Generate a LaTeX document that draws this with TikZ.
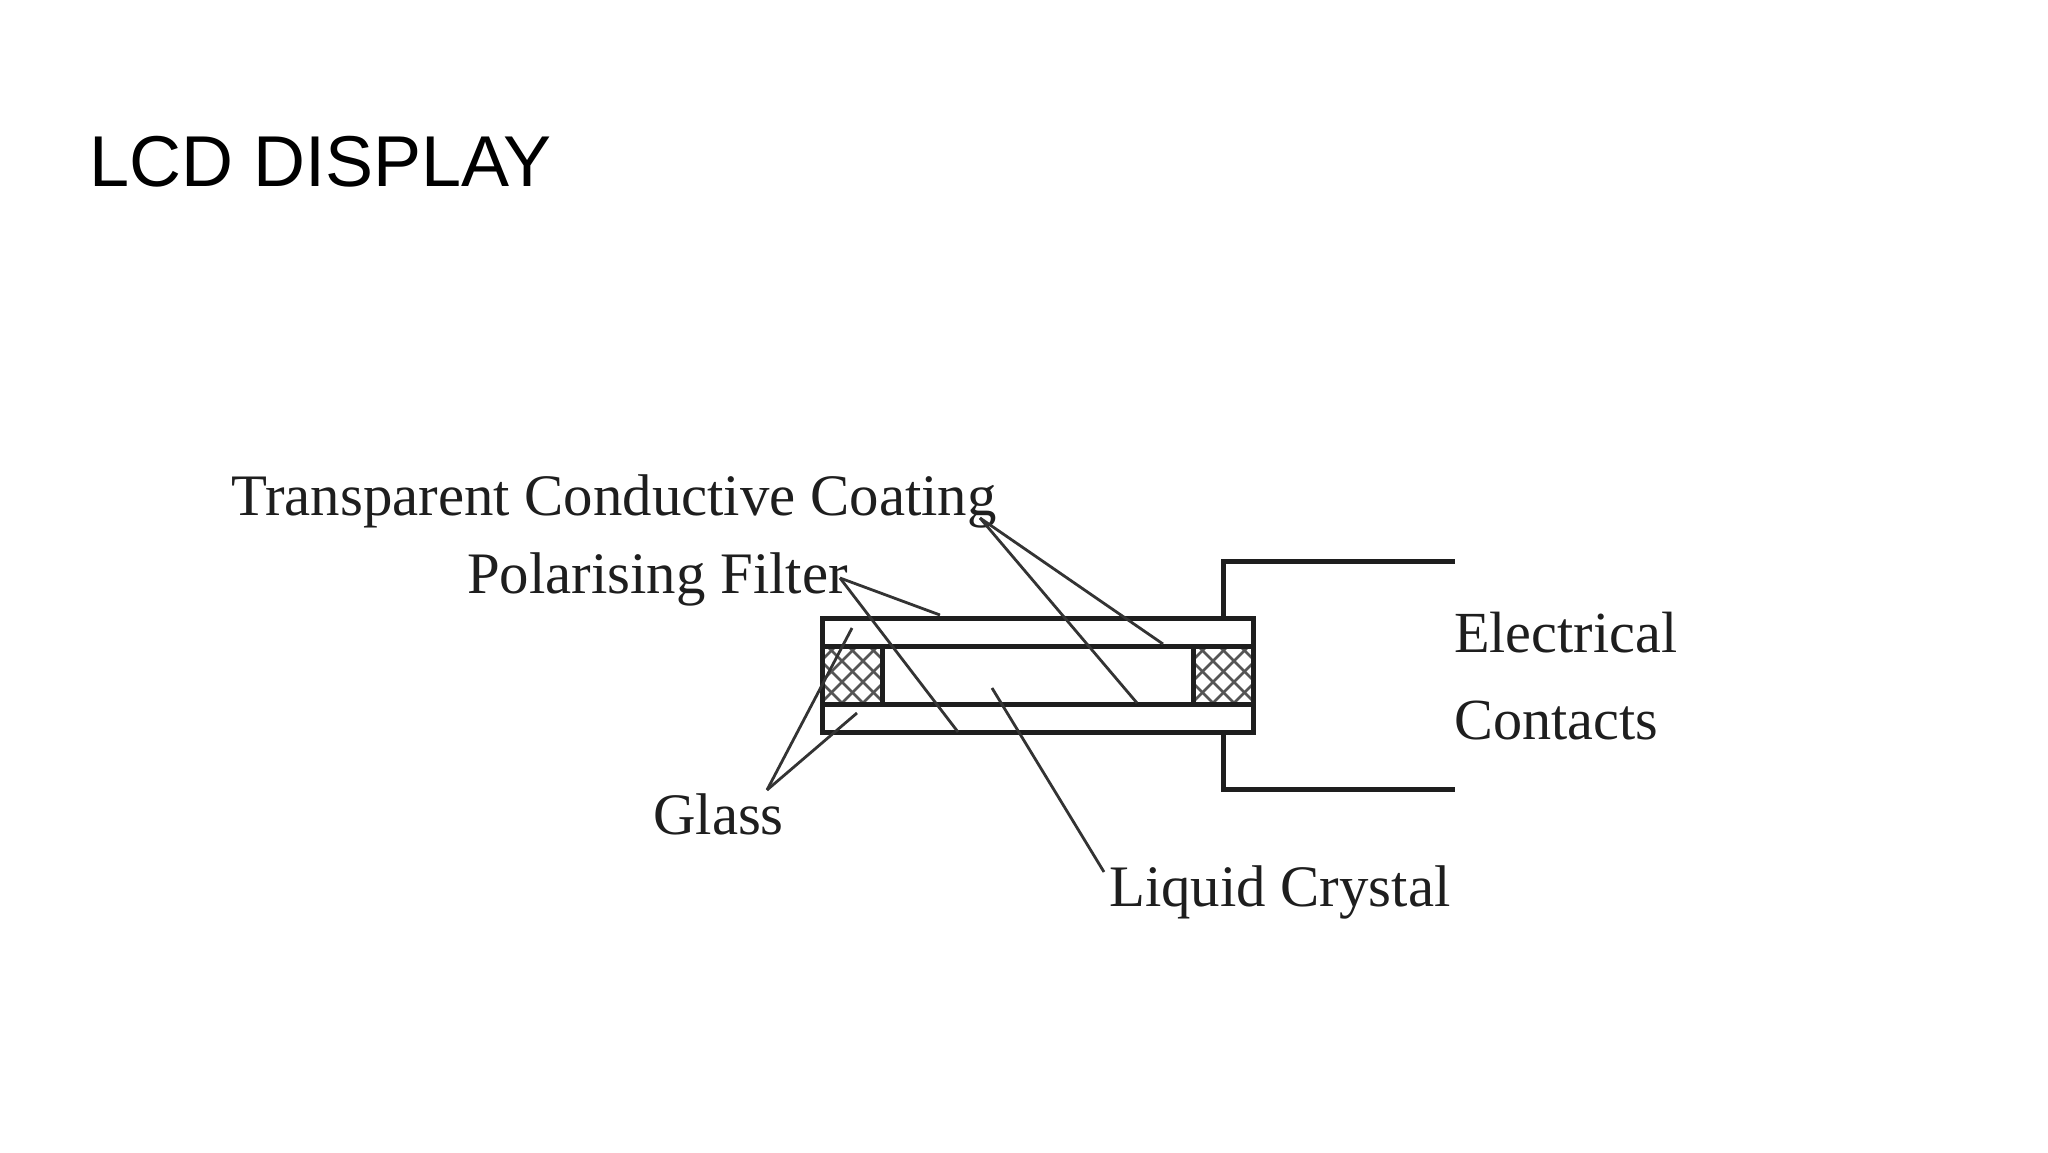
\documentclass[tikz,border=0pt]{standalone}
\usepackage{fontspec}
\setmainfont{Liberation Serif}
\newfontfamily\titlefont{Liberation Sans}
\definecolor{ink}{HTML}{1E1E1E}
\definecolor{lead}{HTML}{333333}
\definecolor{hatchc}{HTML}{555555}
\tikzset{
  lab/.style={inner sep=0pt,anchor=base west,text=ink,font=\fontsize{58.8}{60}\selectfont},
  labb/.style={lab,font=\fontsize{58.2}{60}\selectfont},
  ttl/.style={inner sep=0pt,anchor=base west,text=black,font=\titlefont\fontsize{72}{76}\selectfont},
  heavy/.style={draw=ink,line width=5pt,line cap=butt,line join=miter},
  wire/.style={draw=ink,line width=5pt,line join=miter},
  leader/.style={draw=lead,line width=2.8pt},
  hatchline/.style={draw=hatchc,line width=2.6pt}
}
\begin{document}
\begin{tikzpicture}[x=1pt,y=-1pt]
\useasboundingbox (0,0) rectangle (2048,1152);
\fill[white] (0,0) rectangle (2048,1152);
% text
\node[ttl] (title) at (89,186) {LCD DISPLAY};
\node[lab] (tcc) at (231,515) {Transparent Conductive Coating};
\node[lab] (pf) at (467,593) {Polarising Filter};
\node[labb] (ec1) at (1454,652) {Electrical};
\node[labb] (ec2) at (1454,739) {Contacts};
\node[lab] (gl) at (653,834) {Glass};
\node[lab] (lc) at (1109,906) {Liquid Crystal};
% hatch
\begin{scope}
\clip (822,646) rectangle (882,703);
\foreach \k in {-4,...,8}{
  \draw[hatchline] ({800+\k*21},640) -- ++(70,70);
  \draw[hatchline] ({800+\k*21},640) -- ++(-70,70);
}
\end{scope}
\begin{scope}
\clip (1193,646) rectangle (1253,703);
\foreach \k in {-4,...,8}{
  \draw[hatchline] ({1171+\k*21},640) -- ++(70,70);
  \draw[hatchline] ({1171+\k*21},640) -- ++(-70,70);
}
\end{scope}
\coordinate (bTL) at (822,618);
\coordinate (bBR) at (1253,732);
\draw[heavy] (bTL) rectangle (bBR);
\draw[heavy] (822,646) -- (1253,646);
\draw[heavy] (822,704) -- (1253,704);
\draw[heavy] (882,646) -- (882,704);
\draw[heavy] (1193,646) -- (1193,704);
% contacts
\coordinate (cT) at (1455,561);
\coordinate (cB) at (1455,789);
\draw[wire] (1223,618) |- (cT);
\draw[wire] (1223,732) |- (cB);
% leaders
\coordinate (tccP) at (980,518);
\coordinate (pfP) at (840,578);
\coordinate (glP) at (767,790);
\coordinate (lcP) at (1104,872);
\draw[leader] (tccP) -- (1163,644);
\draw[leader] (tccP) -- (1137,703);
\draw[leader] (pfP) -- (940,615);
\draw[leader] (pfP) -- (958,732);
\draw[leader] (glP) -- (852,628);
\draw[leader] (glP) -- (857,713);
\draw[leader] (lcP) -- (992,688);
\end{tikzpicture}
\end{document}
